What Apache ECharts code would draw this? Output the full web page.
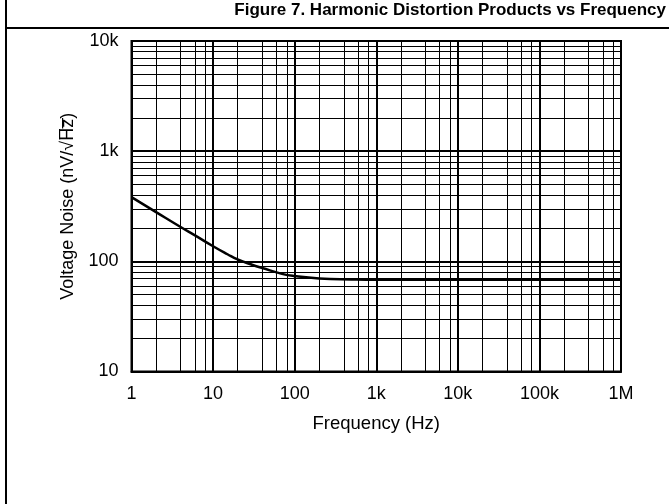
<!DOCTYPE html>
<html>
<head>
<meta charset="utf-8">
<script src="https://cdn.jsdelivr.net/npm/echarts@6/dist/echarts.min.js"></script>
<style>html,body{margin:0;padding:0;background:#fff}#c{width:669px;height:504px}</style>
</head>
<body>
<div id="c"></div>
<script>
// Data
const freqHz = [1, 2, 4, 6, 10, 15, 20, 30, 40, 70, 100, 200, 500, 1000, 10000, 100000, 1000000];
const noise = [383, 280, 205, 172, 137, 116, 104, 93, 87, 77, 73.5, 70, 68.5, 68, 68, 68, 68];
const xTickValues = [1, 10, 100, 1000, 10000, 100000, 1000000];
const xTickLabels = ['1', '10', '100', '1k', '10k', '100k', '1M'];
const yTickValues = [10, 100, 1000, 10000];
const yTickLabels = ['10', '100', '1k', '10k'];
const titleText = 'Figure 7. Harmonic Distortion Products vs Frequency';
const xName = 'Frequency (Hz)';
const yName = 'Voltage Noise (nV/\u221AH\u0305z\u0305)';

// minor grid values (log grid)
const xMinor = [];
for (let i = 0; i < xTickValues.length - 1; i++) [2, 4, 6, 8].forEach(m => xMinor.push(xTickValues[i] * m));
const yMinor = [];
for (let i = 0; i < yTickValues.length - 1; i++) [2, 3, 4, 5, 6, 7, 8, 9].forEach(m => yMinor.push(yTickValues[i] * m));

function lbl(vals, labels) {
  return function (v) {
    for (let i = 0; i < vals.length; i++) if (Math.abs(Math.log10(v) - Math.log10(vals[i])) < 1e-6) return labels[i];
    return '';
  };
}

const chart = echarts.init(document.getElementById('c'));
const font = 'Arial, "Liberation Sans", sans-serif';
chart.setOption({
  animation: false,
  textStyle: { fontFamily: font },
  title: {
    text: titleText, right: 3, top: 2, padding: 0,
    textStyle: { fontSize: 17, fontWeight: 'bold', color: '#000', fontFamily: font }
  },
  graphic: [
    { type: 'line', shape: { x1: 6, y1: 0, x2: 6, y2: 504 }, style: { stroke: '#000', lineWidth: 2 } },
    { type: 'line', shape: { x1: 6, y1: 28, x2: 669, y2: 28 }, style: { stroke: '#000', lineWidth: 2 } }
  ],
  grid: { left: 131.5, right: 48, top: 41, bottom: 132.5, show: true, borderColor: '#000', borderWidth: 2 },
  xAxis: {
    type: 'log', logBase: 10, min: 1, max: 1000000, splitNumber: 6,
    name: xName, nameLocation: 'middle', nameGap: 43,
    nameTextStyle: { fontSize: 18.5, color: '#000' },
    axisLine: { lineStyle: { color: '#000', width: 2 } },
    axisTick: { show: false },
    axisLabel: { fontSize: 18, color: '#000', margin: 14, formatter: lbl(xTickValues, xTickLabels) },
    splitLine: { show: true, lineStyle: { color: '#000', width: 2 } }
  },
  yAxis: {
    type: 'log', logBase: 10, min: 10, max: 10000, splitNumber: 3,
    name: yName, nameLocation: 'middle', nameGap: 54, nameRotate: 90,
    nameTextStyle: { fontSize: 18, color: '#000' },
    axisLine: { lineStyle: { color: '#000', width: 2 } },
    axisTick: { show: false },
    axisLabel: { fontSize: 18, color: '#000', margin: 13, formatter: lbl(yTickValues, yTickLabels) },
    splitLine: { show: true, lineStyle: { color: '#000', width: 2 } }
  },
  series: [
    {
      type: 'line', z: 1, silent: true, symbol: 'none',
      data: freqHz.map((f, i) => [f, noise[i]]),
      lineStyle: { opacity: 0 },
      markLine: {
        silent: true, symbol: ['none', 'none'], animation: false,
        label: { show: false },
        lineStyle: { color: '#000', width: 1, type: 'solid' },
        data: xMinor.map(v => ({ xAxis: v })).concat(yMinor.map(v => ({ yAxis: v })))
      }
    },
    {
      type: 'line', z: 5, symbol: 'none', smooth: true,
      data: freqHz.map((f, i) => [f, noise[i]]),
      lineStyle: { color: '#000', width: 2.5 }
    }
  ]
});
</script>
</body>
</html>
